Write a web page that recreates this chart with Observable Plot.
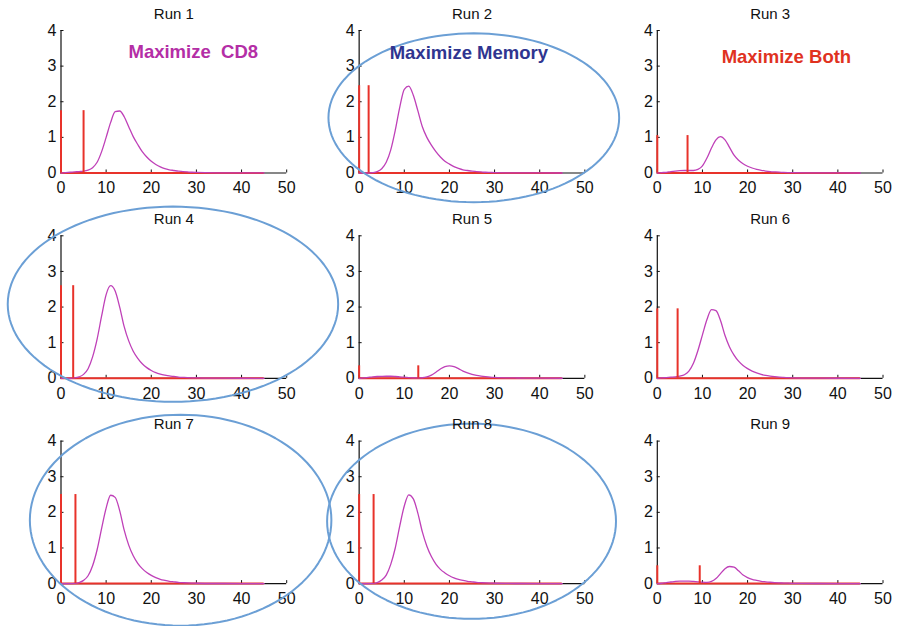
<!DOCTYPE html>
<html><head><meta charset="utf-8">
<script src="https://cdn.jsdelivr.net/npm/d3@7"></script>
<script src="https://cdn.jsdelivr.net/npm/@observablehq/plot@0.6"></script>
<style>
html,body{margin:0;padding:0;background:#fff;}
#chart svg text{white-space:pre;}
</style></head><body><div id="chart"></div>
<script>
// ---- data ----
const runs = [1,2,3,4,5,6,7,8,9];
const xTicks = [0,10,20,30,40,50];
const yTicks = [0,1,2,3,4];
const doseTime   = [5.0, 2.1, 6.7, 2.7, 13.1, 4.5, 3.2, 3.2, 9.4];
const doseHeight = [1.75, 2.45, 1.05, 2.6, 0.35, 1.95, 2.5, 2.5, 0.5];
const doseEnd = 45;
const curveX = [0,1,2,3,4,5,6,7,8,9,10,11,12,13,14,15,16,17,18,19,20,21,22,23,24,25,26,27,28,29,30,35,40,45];
const curve1 = [0,0.01,0.02,0.03,0.04,0.05,0.08,0.15,0.3,0.6,1.0,1.42,1.72,1.74,1.58,1.3,1.02,0.8,0.6,0.45,0.33,0.24,0.17,0.12,0.09,0.07,0.05,0.04,0.03,0.02,0.015,0.005,0.002,0.001];
const curve2 = [0,0,0,0.01,0.04,0.12,0.3,0.65,1.2,1.85,2.35,2.44,2.18,1.75,1.3,1.0,0.78,0.6,0.45,0.33,0.25,0.18,0.13,0.09,0.07,0.05,0.04,0.03,0.02,0.015,0.01,0.003,0.001,0];
const curve3 = [0,0.01,0.02,0.04,0.055,0.065,0.07,0.07,0.07,0.1,0.2,0.42,0.7,0.93,1.02,0.93,0.72,0.5,0.36,0.26,0.19,0.14,0.1,0.075,0.055,0.04,0.03,0.022,0.016,0.012,0.009,0.003,0.001,0];
const curve4 = [0,0,0,0.01,0.04,0.11,0.27,0.6,1.1,1.75,2.35,2.6,2.45,2.0,1.45,1.05,0.76,0.56,0.41,0.3,0.22,0.16,0.12,0.09,0.065,0.05,0.035,0.026,0.019,0.014,0.01,0.003,0.001,0];
const curve5 = [0,0.01,0.025,0.04,0.05,0.055,0.058,0.057,0.05,0.04,0.03,0.02,0.012,0.01,0.015,0.04,0.09,0.17,0.26,0.33,0.35,0.33,0.27,0.2,0.15,0.11,0.08,0.06,0.045,0.033,0.025,0.008,0.003,0.001];
const curve6 = [0,0.01,0.02,0.03,0.04,0.06,0.1,0.2,0.42,0.78,1.22,1.65,1.93,1.9,1.62,1.2,0.88,0.65,0.48,0.36,0.27,0.2,0.15,0.11,0.08,0.06,0.045,0.033,0.025,0.018,0.013,0.004,0.001,0];
const curve7 = [0,0,0,0.005,0.03,0.09,0.22,0.5,0.95,1.55,2.12,2.48,2.42,2.05,1.5,1.08,0.78,0.57,0.42,0.31,0.23,0.17,0.12,0.09,0.065,0.05,0.035,0.026,0.019,0.014,0.01,0.003,0.001,0];
const curve8 = [0,0,0,0.005,0.03,0.1,0.24,0.54,1.0,1.62,2.18,2.49,2.38,1.98,1.45,1.05,0.76,0.55,0.4,0.3,0.22,0.16,0.12,0.09,0.065,0.05,0.035,0.026,0.019,0.014,0.01,0.003,0.001,0];
const curve9 = [0,0.01,0.03,0.045,0.06,0.068,0.07,0.068,0.06,0.05,0.04,0.035,0.06,0.14,0.28,0.42,0.48,0.46,0.36,0.24,0.17,0.12,0.09,0.065,0.05,0.038,0.028,0.021,0.015,0.011,0.008,0.003,0.001,0];
const curves = [curve1,curve2,curve3,curve4,curve5,curve6,curve7,curve8,curve9];

const labelRun   = [1, 2, 3];
const labelText  = ["Maximize  CD8", "Maximize Memory", "Maximize Both"];
const labelX     = [29.3, 24.3, 28.6];
const labelY     = [3.4, 3.37, 3.26];
const labelColor = ["#b42ea6", "#2f3590", "#e0321f"];

const ellipseRun = [2, 4, 7, 8];
const ellipseCx  = [25.4, 24.8, 26.5, 24.9];
const ellipseCy  = [1.55, 2.08, 1.78, 1.75];
const ellipseRx  = [32.2, 36.6, 33.4, 32.0];
const ellipseRy  = [2.37, 2.74, 2.96, 2.74];

// ---- tables ----
const col = r => (r - 1) % 3;
const row = r => Math.floor((r - 1) / 3);
const curveRows = runs.flatMap((r, i) => curveX.map((x, j) => ({run: r, x, y: curves[i][j]})));
const doseRows = runs.flatMap((r, i) => [{run: r, t: 0, h: doseHeight[i]}, {run: r, t: doseTime[i], h: doseHeight[i]}]);
const baseRows = runs.map(r => ({run: r}));
const labelRows = labelRun.map((r, i) => ({run: r, text: labelText[i], x: labelX[i], y: labelY[i], color: labelColor[i]}));
const ellipseRows = ellipseRun.flatMap((r, i) => d3.range(0, 361, 3).map(a => ({
  run: r,
  x: ellipseCx[i] + ellipseRx[i] * Math.cos(a * Math.PI / 180),
  y: ellipseCy[i] + ellipseRy[i] * Math.sin(a * Math.PI / 180)
})));

const RED = "#e8322a", PURPLE = "#bf40b8", BLUE = "#6b9fd5";
const fxo = d => col(d.run), fyo = d => row(d.run);

const chart = Plot.plot({
  width: 898, height: 626,
  marginLeft: 60.5, marginRight: 15.5, marginTop: 30, marginBottom: 42.9,
  x: {domain: [0, 50], label: null},
  y: {domain: [0, 4], label: null},
  fx: {domain: [0, 1, 2], axis: null, paddingInner: 0.243, paddingOuter: 0, round: false},
  fy: {domain: [0, 1, 2], axis: null, paddingInner: 0.306, paddingOuter: 0, round: false},
  style: {fontFamily: "'Liberation Sans', Arial, Helvetica, sans-serif", background: "white", overflow: "visible", color: "#111"},
  marks: [
    Plot.ruleY([0], {stroke: "#111", strokeWidth: 1.2}),
    Plot.ruleX([0], {stroke: "#111", strokeWidth: 1.2}),
    Plot.axisX({ticks: xTicks, tickSize: -3, tickPadding: 12, facetAnchor: null, fontSize: 16, label: null, tickFormat: d => String(d)}),
    Plot.axisY({ticks: yTicks, tickSize: -3, tickPadding: 7.5, facetAnchor: null, fontSize: 16, label: null, tickFormat: d => String(d)}),
    Plot.ruleY(baseRows, {y: () => 0, x1: () => 0, x2: () => doseEnd, fx: fxo, fy: fyo, stroke: RED, strokeWidth: 2}),
    Plot.line(curveRows, {x: "x", y: "y", z: "run", fx: fxo, fy: fyo, stroke: PURPLE, strokeWidth: 1.3, curve: "monotone-x"}),
    Plot.ruleX(doseRows, {x: "t", y1: () => 0, y2: "h", fx: fxo, fy: fyo, stroke: RED, strokeWidth: 2}),
    Plot.line(ellipseRows, {x: "x", y: "y", z: "run", fx: fxo, fy: fyo, stroke: BLUE, strokeWidth: 2, curve: "linear"}),
    Plot.text(runs, {fx: d => col(d), fy: d => row(d), text: d => `Run ${d}`, frameAnchor: "top", lineAnchor: "middle", dy: -16.7, fontSize: 15, fill: "#111"}),
    Plot.text(labelRows, {x: "x", y: "y", fx: fxo, fy: fyo, text: "text", fill: "color", fontSize: 18.5, fontWeight: "bold"})
  ]
});
document.getElementById("chart").appendChild(chart);
</script></body></html>
